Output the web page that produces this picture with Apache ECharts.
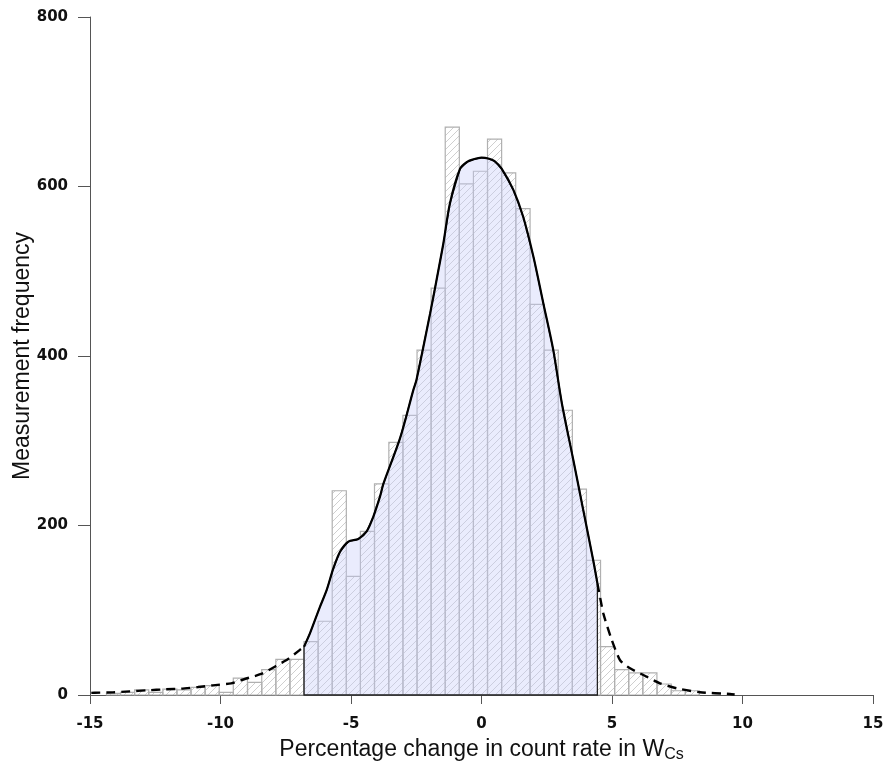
<!DOCTYPE html>
<html>
<head>
<meta charset="utf-8">
<script src="https://cdn.jsdelivr.net/npm/echarts@6/dist/echarts.min.js"></script>
<style>
html,body{margin:0;padding:0;background:#fff;}
#c{width:885px;height:767px;}
</style>
</head>
<body>
<div id="c"></div>
<script>
// Histogram bins (left edges, %), common bin width and counts
const binWidth = 0.541;
const binLefts = [-14.37,-13.83,-13.29,-12.75,-12.21,-11.67,-11.13,-10.59,-10.05,-9.51,-8.96,-8.42,-7.88,-7.34,
  -6.80,-6.26,-5.72,-5.18,-4.64,-4.10,-3.55,-3.01,-2.47,-1.93,-1.39,-0.85,-0.31,0.23,0.77,1.32,1.86,2.40,2.94,3.48,4.02,
  4.56,5.10,5.64,6.18,6.73,7.27,7.81];
const counts = [2,3,6,3,7,6,9,11,3,20,15,30,42,42,
  63,87,241,140,193,249,298,330,407,480,670,603,618,656,616,574,461,407,336,243,159,
  57,30,26,26,13,5,5];

// Density curve, solid (shaded) part
const curveX = [-6.80,-6.57,-6.19,-5.93,-5.68,-5.42,-5.10,-4.72,-4.40,-4.15,-3.89,-3.76,-3.12,-2.61,-2.49,-1.97,-1.72,-1.46,-1.21,-0.82,-0.55,-0.31,0.00,0.26,0.50,0.77,1.22,1.60,1.99,2.37,2.75,3.08,3.52,3.90,4.28,4.44];
const curveY = [57,73,104,124,149,169,181,184,193,210,234,249,303,360,372,450,490,533,580,621,629,632,634,633,630,621,596,564,517,462,407,344,277,218,159,132];
// Density curve, dashed tails
const tailLeftX = [-14.95,-14.82,-14.12,-13.48,-12.84,-12.08,-11.50,-10.86,-10.29,-9.59,-9.07,-8.44,-7.92,-7.41,-6.97,-6.80];
const tailLeftY = [2.5,2.7,3.1,4.3,5.5,6.7,7.5,9.4,11.4,13.8,18.9,24.8,33.4,42.5,53,57];
const tailRightX = [4.44,4.67,4.99,5.31,5.69,6.20,6.84,7.48,8.37,9.52,9.70];
const tailRightY = [132,96,65,41,31.5,23.6,13.8,7.9,3.2,1.2,0.6];

const xTicks = [-15,-10,-5,0,5,10,15];
const yTicks = [0,200,400,600,800];

// hatch pattern
const tile = document.createElement('canvas');
tile.width = 7; tile.height = 7;
(function(){
  const g = tile.getContext('2d');
  g.strokeStyle = '#cfcfcf';
  g.lineWidth = 1;
  g.beginPath();
  g.moveTo(0,7); g.lineTo(7,0);
  g.moveTo(-1,1); g.lineTo(1,-1);
  g.moveTo(6,8); g.lineTo(8,6);
  g.stroke();
})();

const histData = binLefts.map((l,i)=>[l, l+binWidth, counts[i]]);
const solidData = curveX.map((x,i)=>[x, curveY[i]]);
const dashData = tailLeftX.map((x,i)=>[x, tailLeftY[i]]).concat([[null,null]], tailRightX.map((x,i)=>[x, tailRightY[i]]));

const chart = echarts.init(document.getElementById('c'), null, {renderer:'canvas'});
const tickFont = {fontFamily:'DejaVu Sans', fontWeight:'bold', fontSize:15, color:'#111'};
chart.setOption({
  animation:false,
  grid:{left:90, right:12, top:17, bottom:72, containLabel:false, outerBoundsMode:'none'},
  xAxis:{
    type:'value', min:-15, max:15, interval:5,
    name:'{a|Percentage change in count rate in W}{s|Cs}',
    nameLocation:'middle', nameGap:42, nameMoveOverlap:false,
    nameTextStyle:{rich:{
      a:{fontFamily:'Liberation Sans, Arial', fontSize:23, color:'#111', lineHeight:26},
      s:{fontFamily:'Liberation Sans, Arial', fontSize:16, color:'#111', lineHeight:26, verticalAlign:'bottom'}
    }},
    axisLine:{show:true, onZero:false, lineStyle:{color:'#555', width:1}},
    axisTick:{show:true, length:9, lineStyle:{color:'#555'}},
    axisLabel:Object.assign({margin:22, formatter:v=>String(v)}, tickFont),
    splitLine:{show:false}
  },
  yAxis:{
    type:'value', min:0, max:800, interval:200,
    name:'Measurement frequency', nameLocation:'middle', nameGap:56, nameRotate:90, nameMoveOverlap:false,
    nameTextStyle:{fontFamily:'Liberation Sans, Arial', fontSize:23, color:'#111'},
    axisLine:{show:true, onZero:false, lineStyle:{color:'#555', width:1}},
    axisTick:{show:true, length:12, lineStyle:{color:'#555'}},
    axisLabel:Object.assign({margin:22}, tickFont),
    splitLine:{show:false}
  },
  series:[
    {
      type:'custom', z:1, clip:false,
      data:histData,
      encode:{x:[0,1], y:2},
      renderItem:function(params, api){
        const p0 = api.coord([api.value(0), api.value(2)]);
        const p1 = api.coord([api.value(1), 0]);
        return {type:'rect',
          shape:{x:p0[0], y:p0[1], width:p1[0]-p0[0], height:p1[1]-p0[1]},
          style:{fill:{image:tile, repeat:'repeat'}, stroke:'#b0b0b0', lineWidth:1.2}};
      }
    },
    {
      type:'custom', z:2, clip:false,
      data:[0],
      renderItem:function(params, api){
        const pts = [api.coord([curveX[0],0])];
        for (let i=0;i<curveX.length;i++) pts.push(api.coord([curveX[i], curveY[i]]));
        pts.push(api.coord([curveX[curveX.length-1],0]));
        return {type:'polygon', shape:{points:pts},
          style:{fill:'rgba(200,206,250,0.38)', stroke:'#222', lineWidth:1.3}};
      }
    },
    {
      type:'line', z:3, data:solidData, symbol:'none', smooth:0.3,
      lineStyle:{color:'#000', width:2.2}
    },
    {
      type:'line', z:3, data:dashData, symbol:'none', smooth:0.2, connectNulls:false,
      lineStyle:{color:'#000', width:2.4, type:[9,6]}
    }
  ]
});
</script>
</body>
</html>
